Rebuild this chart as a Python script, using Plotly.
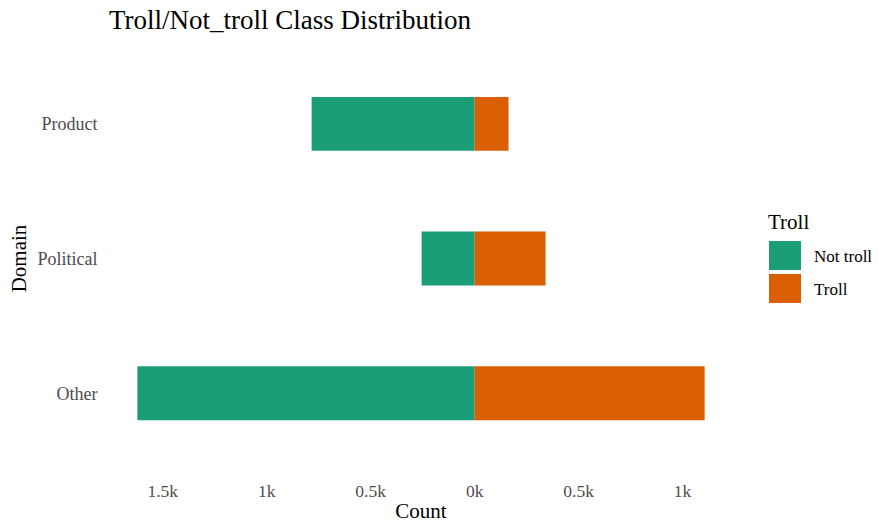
import plotly.graph_objects as go

domains = ["Other", "Political", "Product"]
not_troll = [1622, 255, 784]
troll = [1106, 341, 163]
series_names = ["Not troll", "Troll"]
colors = ["#1B9E77", "#D95F02"]
tick_vals = [-1500, -1000, -500, 0, 500, 1000]
tick_text = ["1.5k", "1k", "0.5k", "0k", "0.5k", "1k"]

FONT = "Liberation Serif, Times New Roman, serif"

fig = go.Figure()
fig.add_trace(go.Bar(y=domains, x=[-v for v in not_troll], orientation="h",
                     name=series_names[0], marker=dict(color=colors[0], line=dict(width=0)),
                     width=0.4, customdata=not_troll,
                     hovertemplate="%{y}: %{customdata}<extra>Not troll</extra>"))
fig.add_trace(go.Bar(y=domains, x=troll, orientation="h",
                     name=series_names[1], marker=dict(color=colors[1], line=dict(width=0)),
                     width=0.4))

xmin = -max(not_troll)
xmax = max(troll)
pad = (xmax - xmin) * 0.05

fig.update_layout(
    width=878, height=523,
    barmode="relative",
    showlegend=False,
    plot_bgcolor="white", paper_bgcolor="white",
    margin=dict(l=109, r=145, t=43, b=49, autoexpand=False),
    font=dict(family=FONT, color="#4d4d4d"),
    title=dict(text="Troll/Not_troll Class Distribution", x=109/878, xanchor="left",
               y=1 - 20/523, yanchor="middle",
               font=dict(family=FONT, size=27, color="black")),
    xaxis=dict(range=[xmin - pad, xmax + pad], tickvals=tick_vals, ticktext=tick_text,
               showgrid=False, zeroline=False, showline=False, automargin=False,
               ticks="outside", ticklen=1, tickcolor="white",
               tickfont=dict(family=FONT, size=17.5, color="#4d4d4d"),
               title=dict(text="Count", font=dict(family=FONT, size=21, color="black"), standoff=4)),
    yaxis=dict(range=[-0.6, 2.6], categoryorder="array", categoryarray=domains,
               showgrid=False, zeroline=False, showline=False, automargin=False,
               ticks="outside", ticklen=7, tickcolor="white",
               tickfont=dict(family=FONT, size=18, color="#4d4d4d"),
               title=dict(text="Domain", font=dict(family=FONT, size=21, color="black"), standoff=5)),
)

# legend drawn manually (ggplot style big keys)
W, H = 624, 431
def px_x(x):
    return (x - 109) / W
def px_y(y):
    return (474 - y) / H

fig.add_annotation(x=px_x(766), y=px_y(222), xref="paper", yref="paper", text="Troll",
                   showarrow=False, xanchor="left", yanchor="middle",
                   font=dict(family=FONT, size=21, color="black"))
key_tops = [241, 274]
for name, col, top in zip(series_names, colors, key_tops):
    fig.add_shape(type="rect", xref="paper", yref="paper",
                  x0=px_x(769), x1=px_x(801), y0=px_y(top), y1=px_y(top + 29),
                  fillcolor=col, line=dict(width=0))
    fig.add_annotation(x=px_x(812), y=px_y(top + 15), xref="paper", yref="paper", text=name,
                       showarrow=False, xanchor="left", yanchor="middle", align="left",
                       font=dict(family=FONT, size=17, color="black"))

fig.write_html("out.html", config={"displayModeBar": False},
               post_script="document.body.style.margin='0';")
